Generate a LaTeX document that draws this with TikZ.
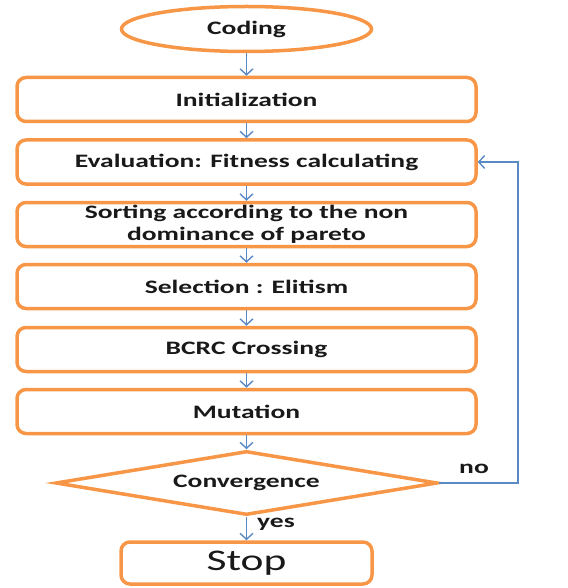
\documentclass[tikz,border=0pt]{standalone}
\usepackage{fontspec}
\setmainfont{Carlito}[FakeStretch=1.45]
\usetikzlibrary{arrows.meta,shapes.geometric,positioning}
\definecolor{boxorange}{HTML}{F79646}
\definecolor{flowblue}{HTML}{5A8AC6}

\begin{document}
\begin{tikzpicture}[x=1pt, y=-1pt,
  every node/.style={font=\fontsize{19}{22}\selectfont\bfseries, align=center, text=black!90},
  stepbox/.style={draw=boxorange, line width=3.5pt, rounded corners=9pt,
                  minimum width=459pt, minimum height=44pt, inner sep=0pt},
  startend/.style={ellipse, draw=boxorange, line width=3.5pt,
                   minimum width=250pt, minimum height=45pt, inner sep=0pt},
  decision/.style={diamond, draw=boxorange, line width=3.5pt, aspect=6,
                   minimum width=382pt, minimum height=64pt, inner sep=0pt},
  flow/.style={draw=flowblue, line width=1.4pt, -{Straight Barb[length=6pt,width=13pt]}}]
  % Define dimensions
  \def\xc{246.5}
  \useasboundingbox (0,0) rectangle (567,588);

  % Draw steps
  \node[startend] (coding) at (\xc,29) {Coding};
  \node[stepbox] (init) at (\xc,99.5) {Initialization};
  \node[stepbox] (eval) at (\xc,162) {Evaluation: Fitness calculating};
  \node[stepbox] (sort) at (\xc,224.5) {Sorting according to the non\\dominance of pareto};
  \node[stepbox] (select) at (\xc,286.5) {Selection : Elitism};
  \node[stepbox] (cross) at (\xc,349.5) {BCRC Crossing};
  \node[stepbox] (mut) at (\xc,411.5) {Mutation};
  \node[decision] (conv) at (\xc,483) {Convergence};
  \node[stepbox, minimum width=251pt, minimum height=42pt,
        font=\fontsize{30}{34}\selectfont] (stop) at (\xc,563) {Stop};

  % Draw flow
  \foreach \a/\b in {coding/init, init/eval, eval/sort, sort/select,
                     select/cross, cross/mut, mut/conv, conv/stop}
    \draw[flow] (\a) -- (\b);

  % Loop back
  \coordinate (back) at (518,483);
  \draw[flow] (conv.east) -- (back) |- (eval.east);

  % Label branches
  \node (no) at (474,469) {no};
  \node (yes) at (276,524) {yes};
\end{tikzpicture}
\end{document}
